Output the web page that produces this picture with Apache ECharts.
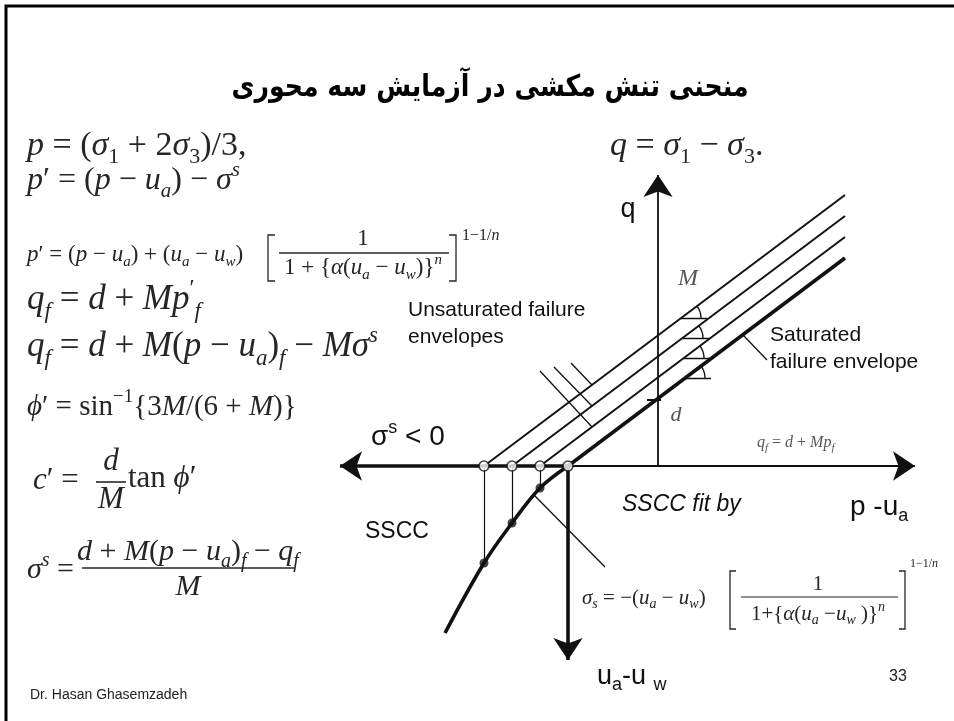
<!DOCTYPE html>
<html>
<head>
<meta charset="utf-8">
<script src="https://cdn.jsdelivr.net/npm/echarts@6.0.0/dist/echarts.min.js"></script>
<style>
  html, body { margin: 0; padding: 0; background: #fff; }
  #chart { width: 954px; height: 721px; }
</style>
</head>
<body>
<div id="chart"></div>
<script>
// ---- diagram data (p − ua horizontal, q up, ua − uw down) ----
// p − ua intercepts of the failure envelopes, saturated envelope first
const envelopeIntercepts = [-9, -11.8, -14.6, -17.4];
// upper ends of the envelopes
const envelopeEndP = 18.7;
const envelopeEndQ = [20.8, 22.9, 25.0, 27.1];
// soil-suction characteristic curve (SSCC) below the p − ua axis
const ssccP = [-9, -11.8, -14.6, -17.4, -21.3];
const ssccS = [0, -2.2, -5.7, -9.7, -16.7];
// vertices of the slope-M angle marks on each envelope
const angleP = [2.7, 2.6, 2.5, 2.3];
const angleQ = [8.8, 10.8, 12.8, 14.8];
const angleLen = 2.6;
// cohesion intercept d on the q axis
const dValue = 6.6;
// axis extents
const pAxisLeft = -31.8, pAxisRight = 25.7, qAxisTop = 29.1, suctionAxisEnd = -19.4;
// leader lines from the "Unsaturated failure envelopes" label
const hatchFrom = [[-11.8, 9.5], [-10.4, 9.9], [-8.7, 10.3]];
const hatchTo = [[-6.6, 3.9], [-6.6, 6.0], [-6.6, 8.1]];
// leader to "Saturated failure envelope" and pointer from the SSCC to its fit
const saturatedLeader = [[8.5, 13.1], [10.9, 10.6]];
const ssccPointer = [[-12.4, -2.9], [-5.3, -10.1]];

const SERIF = '"Liberation Serif", "Times New Roman", serif';
const SANS = '"Liberation Sans", Arial, sans-serif';
const EQ = '#262626';
const INK = '#111';
const GREY = '#555';

function richSet(size, family, color) {
  const lh = Math.round(size * 1.3), sm = Math.round(size * 0.66);
  const base = { fontFamily: family, fontSize: size, lineHeight: lh, verticalAlign: 'middle', fill: color };
  const lo = { fontFamily: family, fontSize: sm, lineHeight: sm, verticalAlign: 'bottom', fill: color };
  const hi = { fontFamily: family, fontSize: sm, lineHeight: sm, verticalAlign: 'top', fill: color };
  return {
    r: base, i: Object.assign({}, base, { fontStyle: 'italic' }),
    b: Object.assign({}, lo, { fontStyle: 'italic' }), br: lo,
    t: Object.assign({}, hi, { fontStyle: 'italic' }), tr: hi
  };
}
function txt(x, y, size, text, opt) {
  opt = opt || {};
  const family = opt.family || SERIF;
  const color = opt.color || EQ;
  const align = opt.align || 'left';
  return {
    type: 'text', x: x, y: y, silent: true, z: 10,
    scaleX: opt.scaleX || 1,
    style: {
      text: text, rich: richSet(size, family, color),
      fontFamily: family, fontSize: size, fontWeight: opt.weight || 'normal',
      fontStyle: opt.italic ? 'italic' : 'normal', fill: color,
      align: align, textAlign: align, verticalAlign: 'middle', textVerticalAlign: 'middle'
    }
  };
}
function hline(x1, x2, y, w, color) {
  return { type: 'line', silent: true, z: 10, shape: { x1: x1, y1: y, x2: x2, y2: y }, style: { stroke: color || EQ, lineWidth: w || 1.2 } };
}
function bracket(x, y1, y2, w, right, color) {
  const d = right ? -w : w;
  return { type: 'polyline', silent: true, z: 10, shape: { points: [[x + d, y1], [x, y1], [x, y2], [x + d, y2]] }, style: { stroke: color || EQ, lineWidth: 1.3, fill: null } };
}

const graphics = [
  // slide frame
  { type: 'rect', silent: true, shape: { x: 6, y: 6, width: 1000, height: 800 }, style: { fill: null, stroke: '#000', lineWidth: 3 } },
  // title
  txt(490, 88, 30, 'منحنی تنش مکشی در آزمایش سه محوری', { family: '"DejaVu Sans", sans-serif', color: '#000', weight: 'bold', align: 'center', scaleX: 0.84 }),

  // left column of relations
  txt(27, 146, 34, '{i|p}{r| = (}{i|σ}{br|1}{r| + 2}{i|σ}{br|3}{r|)/3,}'),
  txt(610, 146, 34, '{i|q}{r| = }{i|σ}{br|1}{r| − }{i|σ}{br|3}{r|.}'),
  txt(27, 181, 32, '{i|p}{r|′ = (}{i|p}{r| − }{i|u}{b|a}{r|) − }{i|σ}{t|s}'),
  txt(27, 255, 23, '{i|p}{r|′ = (}{i|p}{r| − }{i|u}{b|a}{r|) + (}{i|u}{b|a}{r| − }{i|u}{b|w}{r|)}'),
  bracket(268, 235, 281, 7, false),
  txt(363, 239, 23, '{r|1}', { align: 'center' }),
  hline(279, 449, 253, 1.3),
  txt(363, 268, 23, '{r|1 + }{{i|α}{r|(}{i|u}{b|a}{r| − }{i|u}{b|w}{r|)}}{t|n}', { align: 'center' }),
  bracket(456, 235, 281, 7, true),
  txt(462, 236, 16, '{r|1−1/}{i|n}'),
  txt(27, 300, 35, '{i|q}{b|f}{r| = }{i|d}{r| + }{i|Mp}{tr|′}{b|f}'),
  txt(27, 347, 35, '{i|q}{b|f}{r| = }{i|d}{r| + }{i|M}{r|(}{i|p}{r| − }{i|u}{b|a}{r|)}{b|f}{r| − }{i|Mσ}{t|s}'),
  txt(27, 407, 29, '{i|ϕ}{r|′ = sin}{tr|−1}{3{i|M}{r|/(6 + }{i|M}{r|)}}'),
  txt(33, 481, 31, '{i|c}{r|′ = }'),
  txt(111, 462, 31, '{i|d}', { align: 'center' }),
  hline(96, 126, 482, 1.6),
  txt(111, 500, 31, '{i|M}', { align: 'center' }),
  txt(128, 479, 31, '{r|tan }{i|ϕ}{r|′}'),
  txt(27, 570, 30, '{i|σ}{t|s}{r| = }'),
  txt(188, 552, 30, '{i|d}{r| + }{i|M}{r|(}{i|p}{r| − }{i|u}{b|a}{r|)}{b|f}{r| − }{i|q}{b|f}', { align: 'center' }),
  hline(82, 294, 568, 1.6),
  txt(188, 587, 30, '{i|M}', { align: 'center' }),

  // diagram labels
  txt(628, 210, 27, 'q', { family: SANS, color: INK, align: 'center' }),
  txt(688, 279, 24, '{i|M}', { color: GREY, align: 'center' }),
  txt(676, 415, 22, '{i|d}', { color: GREY, align: 'center' }),
  txt(408, 310, 21, 'Unsaturated failure', { family: SANS, color: INK }),
  txt(408, 337, 21, 'envelopes', { family: SANS, color: INK }),
  txt(770, 335, 21, 'Saturated', { family: SANS, color: INK }),
  txt(770, 362, 21, 'failure envelope', { family: SANS, color: INK }),
  txt(371, 437, 28, '{r|σ}{tr|s}{r| < 0}', { family: SANS, color: INK }),
  txt(757, 443, 16, '{i|q}{b|f}{r| = }{i|d}{r| + }{i|Mp}{b|f}', { color: GREY }),
  txt(622, 505, 23, 'SSCC fit by', { family: SANS, color: INK, italic: true }),
  txt(850, 507, 28, '{r|p -u}{br|a}', { family: SANS, color: INK }),
  txt(365, 532, 23, 'SSCC', { family: SANS, color: INK }),
  txt(597, 677, 27, '{r|u}{br|a}{r|-u }{br|w}', { family: SANS, color: INK }),

  // suction stress relation
  txt(582, 598, 21, '{i|σ}{b|s}{r| = −(}{i|u}{b|a}{r| − }{i|u}{b|w}{r|)}'),
  bracket(730, 571, 629, 6, false),
  txt(818, 584, 21, '{r|1}', { align: 'center' }),
  hline(741, 898, 597, 1.2),
  txt(818, 614, 21, '{r|1+}{{i|α}{r|(}{i|u}{b|a}{r| −}{i|u}{b|w}{r| )}}{t|n}', { align: 'center' }),
  bracket(905, 571, 629, 6, true),
  txt(910, 564, 12, '{r|1−1/}{i|n}'),

  // footer
  txt(30, 695, 14, 'Dr. Hasan Ghasemzadeh', { family: SANS, color: '#222' }),
  txt(898, 677, 16, '33', { family: SANS, color: '#222', align: 'center' })
];

const seg = (a, b, extra) => Object.assign({ coords: [a, b] }, extra || {});

const option = {
  animation: false,
  grid: { left: 338, top: 166, width: 600, height: 550, show: false },
  xAxis: { type: 'value', min: -32, max: 28, show: false },
  yAxis: { type: 'value', min: -25, max: 30, show: false },
  graphic: graphics,
  series: [
    // failure envelopes
    {
      type: 'lines', coordinateSystem: 'cartesian2d', silent: true, z: 3,
      lineStyle: { color: INK, width: 2, opacity: 1 },
      data: envelopeIntercepts.map((p0, i) => seg([p0, 0], [envelopeEndP, envelopeEndQ[i]],
        i === 0 ? { lineStyle: { width: 3.6 } } : null))
    },
    // SSCC
    {
      type: 'line', smooth: 0.35, symbol: 'none', silent: true, z: 3,
      lineStyle: { color: INK, width: 3.6 },
      data: ssccP.map((p, i) => [p, ssccS[i]])
    },
    // drops from the envelope intercepts to the SSCC
    {
      type: 'lines', coordinateSystem: 'cartesian2d', silent: true, z: 2,
      lineStyle: { color: INK, width: 1.2, opacity: 1 },
      data: ssccP.slice(1, 4).map((p, i) => seg([p, 0], [p, ssccS[i + 1]]))
    },
    // axes with arrow heads
    {
      type: 'lines', coordinateSystem: 'cartesian2d', silent: true, z: 4,
      symbol: ['none', 'arrow'], symbolSize: [0, 22],
      lineStyle: { color: INK, width: 3.6, opacity: 1 },
      data: [
        seg([envelopeIntercepts[0], 0], [pAxisLeft, 0]),
        seg([envelopeIntercepts[0], 0], [envelopeIntercepts[0], suctionAxisEnd])
      ]
    },
    {
      type: 'lines', coordinateSystem: 'cartesian2d', silent: true, z: 4,
      symbol: ['none', 'arrow'], symbolSize: [0, 22],
      lineStyle: { color: INK, width: 1.8, opacity: 1 },
      data: [
        seg([envelopeIntercepts[0], 0], [pAxisRight, 0]),
        seg([0, 0], [0, qAxisTop])
      ]
    },
    // leaders, tick for d and the horizontal legs of the angle marks
    {
      type: 'lines', coordinateSystem: 'cartesian2d', silent: true, z: 2,
      lineStyle: { color: INK, width: 1.3, opacity: 1 },
      data: hatchFrom.map((a, i) => seg(a, hatchTo[i]))
        .concat([seg(saturatedLeader[0], saturatedLeader[1]), seg(ssccPointer[0], ssccPointer[1]),
          seg([-1.1, dValue], [0.3, dValue], { lineStyle: { width: 2 } })])
        .concat(angleP.map((p, i) => seg([p, angleQ[i]], [p + angleLen, angleQ[i]])))
    },
    // arcs of the angle marks
    {
      type: 'custom', silent: true, z: 2,
      data: angleP.map((p, i) => [p, angleQ[i]]),
      renderItem: function (params, api) {
        const c = api.coord([api.value(0), api.value(1)]);
        const r = api.size([2, 0])[0];
        return {
          type: 'arc',
          shape: { cx: c[0], cy: c[1], r: r, startAngle: -Math.atan(0.75), endAngle: 0 },
          style: { stroke: INK, fill: null, lineWidth: 1.3 }
        };
      }
    },
    // points on the SSCC
    {
      type: 'scatter', silent: true, z: 6, symbol: 'circle', symbolSize: 9,
      itemStyle: { color: INK },
      data: ssccP.slice(1, 4).map((p, i) => [p, ssccS[i + 1]])
    },
    // envelope intercepts on the p − ua axis
    {
      type: 'scatter', silent: true, z: 7, symbol: 'circle', symbolSize: 10,
      itemStyle: { color: '#fff', borderColor: INK, borderWidth: 1.6 },
      data: envelopeIntercepts.map(p => [p, 0])
    }
  ]
};

const chart = echarts.init(document.getElementById('chart'));
chart.setOption(option);
</script>
</body>
</html>
